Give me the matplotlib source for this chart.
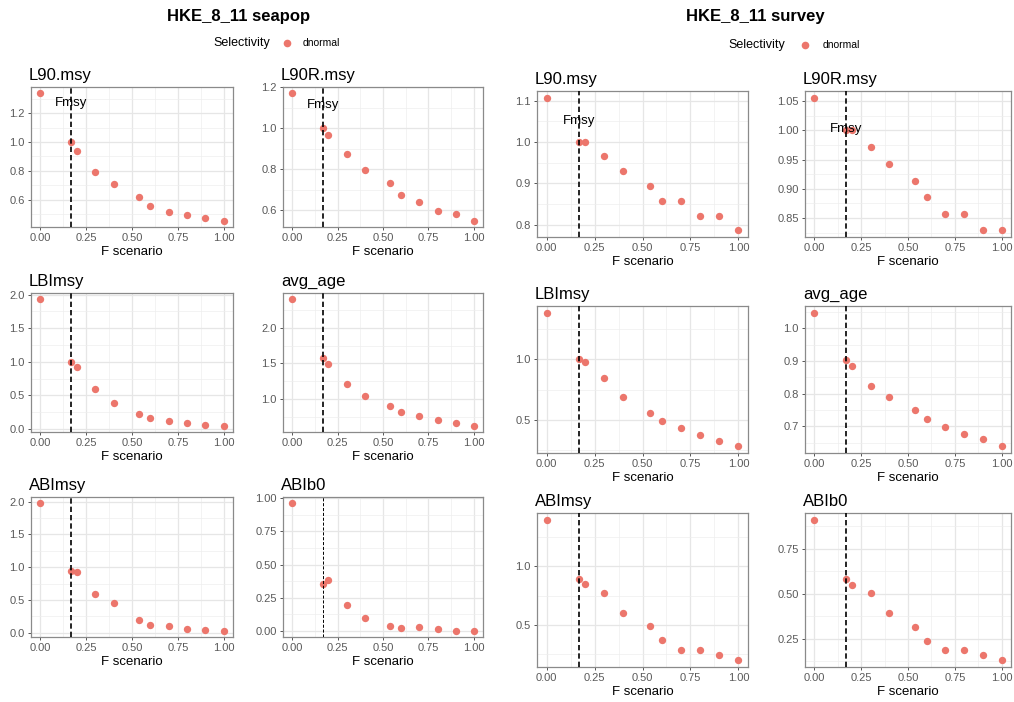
import matplotlib
matplotlib.use("Agg")
import matplotlib.pyplot as plt
from matplotlib.ticker import AutoMinorLocator

plt.rcParams['font.family'] = ['Liberation Sans', 'DejaVu Sans']

W, H = 1014, 702

# F scenarios (x axis) and Fmsy reference
f_scen = [0.0, 0.17, 0.2, 0.3, 0.4, 0.54, 0.6, 0.7, 0.8, 0.9, 1.0]
fmsy = 0.17

titles = ["L90.msy", "L90R.msy", "LBImsy", "avg_age", "ABImsy", "ABIb0"]

# seapop indicators
sea_l90 = [1.338, 1.0, 0.938, 0.792, 0.706, 0.621, 0.558, 0.517, 0.496, 0.475, 0.454]
sea_l90r = [1.171, 1.0, 0.969, 0.874, 0.796, 0.734, 0.672, 0.641, 0.593, 0.579, 0.548]
sea_lbi = [1.931, 1.0, 0.916, 0.591, 0.384, 0.217, 0.158, 0.123, 0.084, 0.059, 0.049]
sea_age = [2.402, 1.575, 1.491, 1.210, 1.042, 0.897, 0.808, 0.752, 0.701, 0.664, 0.621]
sea_abi = [1.975, 0.949, 0.929, 0.584, 0.447, 0.193, 0.112, 0.096, 0.061, 0.041, 0.030]
sea_abib0 = [0.962, 0.352, 0.387, 0.196, 0.098, 0.040, 0.020, 0.028, 0.013, 0.003, 0.003]

# survey indicators
sur_l90 = [1.107, 1.0, 1.0, 0.965, 0.929, 0.893, 0.857, 0.857, 0.821, 0.821, 0.786]
sur_l90r = [1.056, 1.0, 1.0, 0.971, 0.943, 0.914, 0.886, 0.857, 0.857, 0.829, 0.829]
sur_lbi = [1.389, 1.0, 0.981, 0.842, 0.692, 0.553, 0.489, 0.428, 0.375, 0.322, 0.278]
sur_age = [1.048, 0.903, 0.885, 0.823, 0.791, 0.749, 0.722, 0.697, 0.678, 0.660, 0.639]
sur_abi = [1.396, 0.896, 0.851, 0.777, 0.601, 0.488, 0.369, 0.286, 0.286, 0.247, 0.202]
sur_abib0 = [0.911, 0.581, 0.552, 0.506, 0.392, 0.318, 0.240, 0.186, 0.186, 0.161, 0.132]

x_ticks = [0.0, 0.25, 0.5, 0.75, 1.0]

sea_yticks = [[0.6, 0.8, 1.0, 1.2], [0.6, 0.8, 1.0, 1.2], [0.0, 0.5, 1.0, 1.5, 2.0],
              [1.0, 1.5, 2.0], [0.0, 0.5, 1.0, 1.5, 2.0], [0.0, 0.25, 0.5, 0.75, 1.0]]
sea_ydec = [1, 1, 1, 1, 1, 2]
sur_yticks = [[0.8, 0.9, 1.0, 1.1], [0.85, 0.9, 0.95, 1.0, 1.05], [0.5, 1.0],
              [0.7, 0.8, 0.9, 1.0], [0.5, 1.0], [0.25, 0.5, 0.75]]
sur_ydec = [1, 2, 1, 1, 1, 2]

pt_col = '#EC766C'


def px_axes(fig, l, t, r, b):
    return fig.add_axes([l / W, 1 - b / H, (r - l) / W, (b - t) / H])


def draw_panel(ax, y, title, yticks, ydec, show_fmsy, vlw):
    ax.set_facecolor('white')
    ax.scatter(f_scen, y, s=28, color=pt_col, zorder=3, linewidths=0)
    ax.axvline(fmsy, color='black', ls=(0, (3.2, 1.8)), lw=vlw, zorder=4)
    lo, hi = min(y), max(y)
    pad = 0.05 * (hi - lo)
    ax.set_xlim(-0.05, 1.05)
    ax.set_xticks(x_ticks)
    ax.set_xticklabels(['%.2f' % v for v in x_ticks])
    ax.set_yticks(yticks)
    ax.set_yticklabels([('%.' + str(ydec) + 'f') % v for v in yticks])
    ax.set_ylim(lo - pad, hi + pad)
    ax.xaxis.set_minor_locator(AutoMinorLocator(2))
    ax.yaxis.set_minor_locator(AutoMinorLocator(2))
    ax.grid(True, which='major', color='#E6E6E6', lw=0.9, zorder=0)
    ax.grid(True, which='minor', color='#EEEEEE', lw=0.5, zorder=0)
    ax.set_axisbelow(True)
    for sp in ax.spines.values():
        sp.set_color('#8A8A8A')
        sp.set_linewidth(0.9)
    ax.tick_params(which='major', length=2.5, width=0.7, color='#555555',
                   labelsize=8, labelcolor='#5A5A5A', pad=2)
    ax.tick_params(which='minor', length=0)
    ax.set_xlabel('F scenario', fontsize=9.5, labelpad=2)
    ax.set_title(title, loc='left', fontsize=12, pad=5, x=-0.01)
    if show_fmsy:
        ax.text(fmsy, 0.95 * hi, 'Fmsy', ha='center', va='center', fontsize=9.5, zorder=5)


fig = plt.figure(figsize=(W / 100, H / 100), dpi=100)

# seapop block
sea_vals = [sea_l90, sea_l90r, sea_lbi, sea_age, sea_abi, sea_abib0]
sea_cols = [(31, 233), (283, 483)]
sea_rows = [(87, 227), (293, 432), (497, 637)]
for i, vals in enumerate(sea_vals):
    l, r = sea_cols[i % 2]
    t, b = sea_rows[i // 2]
    ax = px_axes(fig, l, t, r, b)
    draw_panel(ax, vals, titles[i], sea_yticks[i], sea_ydec[i], i < 2, 0.7 if i == 5 else 1.2)

# survey block
sur_vals = [sur_l90, sur_l90r, sur_lbi, sur_age, sur_abi, sur_abib0]
sur_cols = [(537, 748), (805, 1011)]
sur_rows = [(91, 237), (306, 453), (513, 667)]
for i, vals in enumerate(sur_vals):
    l, r = sur_cols[i % 2]
    t, b = sur_rows[i // 2]
    ax = px_axes(fig, l, t, r, b)
    draw_panel(ax, vals, titles[i], sur_yticks[i], sur_ydec[i], i < 2, 1.2)

# block titles and legends
fig.text(239 / W, 1 - 17 / H, 'HKE_8_11 seapop', ha='center', va='center',
         fontsize=12, fontweight='bold')
fig.text(755 / W, 1 - 17 / H, 'HKE_8_11 survey', ha='center', va='center',
         fontsize=12, fontweight='bold')

for sx, px, dx, ly in [(213, 287, 303, 43), (728, 805, 823, 45)]:
    fig.text(sx / W, 1 - ly / H, 'Selectivity', ha='left', va='center', fontsize=9)
    fig.add_artist(plt.Line2D([px / W], [1 - ly / H], marker='o', color=pt_col,
                              markersize=5.5, markeredgewidth=0, transform=fig.transFigure))
    fig.text(dx / W, 1 - ly / H, 'dnormal', ha='left', va='center', fontsize=7.5)

fig.savefig('out.png', dpi=100, facecolor='white')
